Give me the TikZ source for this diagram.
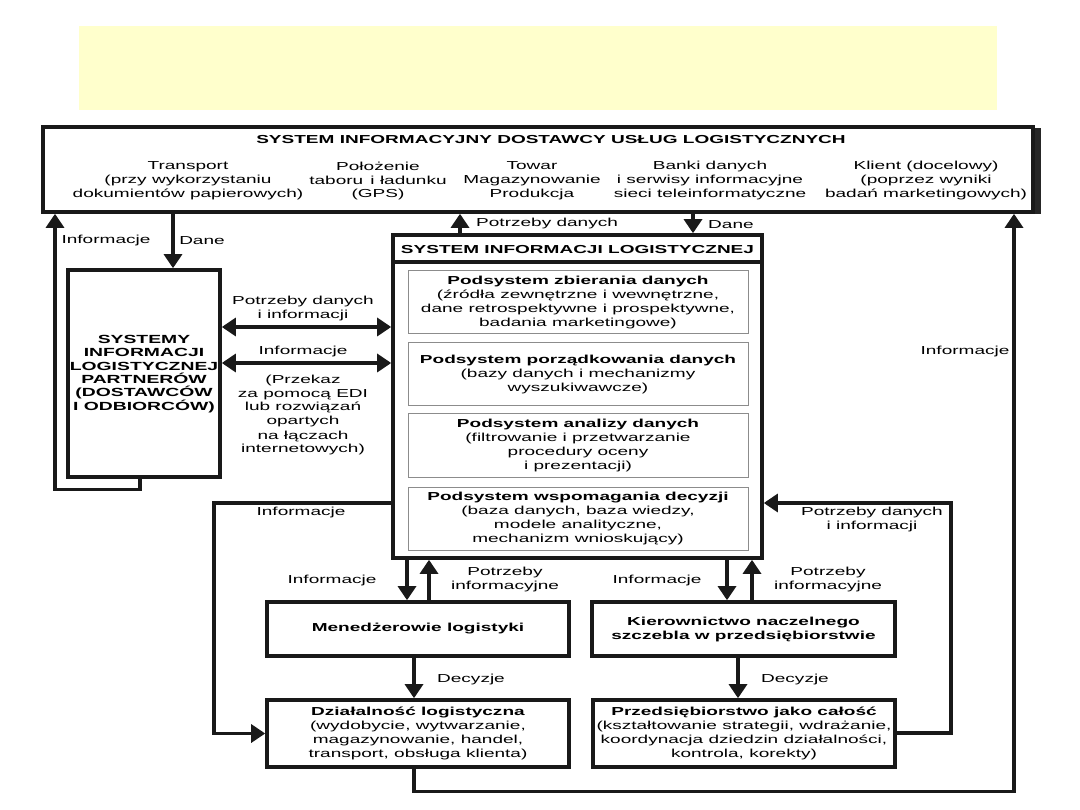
\documentclass[tikz,border=0pt]{standalone}
\usepackage{fontspec}
\setmainfont{Liberation Sans}[FakeStretch=1.64]
\usetikzlibrary{arrows.meta}
\newcommand\dgsize{\fontsize{11.6}{14}\selectfont}
\newcommand\dgsizeb{\fontsize{11.8}{13.4}\selectfont}
\definecolor{paleyellow}{RGB}{255,255,204}
\tikzset{
  box/.style={draw=black!90, line width=3.6pt, inner sep=0pt, align=center, font=\dgsize},
  subbox/.style={draw=black!45, line width=1pt, inner sep=0pt, align=center, font=\dgsize},
  lbl/.style={inner sep=0pt, align=center, font=\dgsize},
  conn/.style={line width=3.2pt, draw=black!90},
  arr/.style={conn, -{Triangle[width=18pt,length=14pt]}},
  darr/.style={conn, {Triangle[width=18pt,length=14pt]}-{Triangle[width=18pt,length=14pt]}},
}
\begin{document}
\begin{tikzpicture}[x=1pt,y=-1pt]
\useasboundingbox (0,0) rectangle (1080,810);
% yellow title band
\fill[paleyellow] (79,26) rectangle (997,110);

% top box with shadow
\fill[black!85] (1035,128) rectangle (1041,214);
\node[box, minimum width=990pt, minimum height=85pt] (top) at (538,169.5) {};
\node[lbl, font=\dgsize\bfseries] (tophead) at (551,140) {SYSTEM INFORMACYJNY DOSTAWCY USŁUG LOGISTYCZNYCH};
\node[lbl] (c1) at (188,181) {Transport\\(przy wykorzystaniu\\dokumientów papierowych)};
\node[lbl] (c2) at (378,181) {Położenie\\taboru\, i ładunku\\(GPS)};
\node[lbl] (c3) at (532,181) {Towar\\Magazynowanie\\Produkcja};
\node[lbl] (c4) at (710,181) {Banki danych\\i serwisy informacyjne\\sieci teleinformatyczne};
\node[lbl] (c5) at (926,181) {Klient (docelowy)\\(poprzez wyniki\\badań marketingowych)};

% partners box
\node[box, minimum width=152pt, minimum height=207pt] (partners) at (144,373.5) {};
\node[lbl, font=\dgsizeb\bfseries] (partnerstxt) at (144,374)
  {SYSTEMY\\INFORMACJI\\LOGISTYCZNEJ\\PARTNERÓW\\(DOSTAWCÓW\\I ODBIORCÓW)};

% central system
\node[box, minimum width=369pt, minimum height=323pt] (sil) at (577.5,396.5) {};
\coordinate (sep) at (0,262);
\draw[line width=3.6pt, draw=black!90] (sil.west |- sep) -- (sil.east |- sep);
\node[lbl, font=\dgsize\bfseries] (silhead) at (577.5,250) {SYSTEM INFORMACJI LOGISTYCZNEJ};
\node[subbox, minimum width=340pt, minimum height=63pt] (sub1) at (578,302.5)
  {\textbf{Podsystem zbierania danych}\\(źródła zewnętrzne i wewnętrzne,\\dane retrospektywne i prospektywne,\\badania marketingowe)};
\node[subbox, minimum width=340pt, minimum height=63pt] (sub2) at (578,374.5)
  {\textbf{Podsystem porządkowania danych}\\(bazy danych i mechanizmy\\wyszukiwawcze)};
\node[subbox, minimum width=340pt, minimum height=64pt] (sub3) at (578,446)
  {\textbf{Podsystem analizy danych}\\(filtrowanie i przetwarzanie\\procedury oceny\\i prezentacji)};
\node[subbox, minimum width=340pt, minimum height=63pt] (sub4) at (578,518.5)
  {\textbf{Podsystem wspomagania decyzji}\\(baza danych, baza wiedzy,\\modele analityczne,\\mechanizm wnioskujący)};

% lower boxes
\node[box, font=\dgsize\bfseries, minimum width=302pt, minimum height=54pt] (men) at (418,629) {Menedżerowie logistyki};
\node[box, minimum width=302pt, minimum height=67pt] (dzial) at (418,733.5)
  {\textbf{Działalność logistyczna}\\(wydobycie, wytwarzanie,\\magazynowanie, handel,\\transport, obsługa klienta)};
\node[box, font=\dgsize\bfseries, minimum width=303pt, minimum height=54pt] (kier) at (743.5,629)
  {Kierownictwo naczelnego\\szczebla w przedsiębiorstwie};
\node[box, minimum width=302pt, minimum height=67pt] (przed) at (744,733.5)
  {\textbf{Przedsiębiorstwo jako całość}\\(kształtowanie strategii, wdrażanie,\\koordynacja dziedzin działalności,\\kontrola, korekty)};

% helper coordinates
\coordinate (xl) at (55,0);
\coordinate (xd) at (173,0);
\coordinate (xp) at (460,0);
\coordinate (xdc) at (693,0);
\coordinate (xr) at (1014,0);
\coordinate (y1) at (0,327);
\coordinate (y2) at (0,363);
\coordinate (a1) at (214,503);
\coordinate (xm1) at (407,0);
\coordinate (xm2) at (429,0);
\coordinate (xm3) at (414,0);
\coordinate (xk1) at (727,0);
\coordinate (xk2) at (752,0);
\coordinate (xk3) at (738,0);
\coordinate (b1) at (951,733);
\coordinate (yb) at (0,503);

% connectors
\draw[arr] ([xshift=-4pt]partners.south) -- ++(0,11) -| (xl |- top.south);
\draw[arr] (xd |- top.south) -- (xd |- partners.north);
\draw[arr] (xp |- sil.north) -- (xp |- top.south);
\draw[arr] (xdc |- top.south) -- (xdc |- sil.north);
\draw[darr] (partners.east |- y1) -- (sil.west |- y1);
\draw[darr] (partners.east |- y2) -- (sil.west |- y2);
\draw[arr] (sil.west |- a1) -- (a1) |- (dzial.west);
\draw[arr] (xm1 |- sil.south) -- (xm1 |- men.north);
\draw[arr] (xm2 |- men.north) -- (xm2 |- sil.south);
\draw[arr] (xm3 |- men.south) -- (xm3 |- dzial.north);
\draw[arr] (xm3 |- dzial.south) -- ++(0,23) -| (xr |- top.south);
\draw[arr] (xk1 |- sil.south) -- (xk1 |- kier.north);
\draw[arr] (xk2 |- kier.north) -- (xk2 |- sil.south);
\draw[arr] (xk3 |- kier.south) -- (xk3 |- przed.north);
\draw[arr] (przed.east |- b1) -- (b1) |- (sil.east |- yb);

% labels
\node[lbl] (lInfoL) at (106,241) {Informacje};
\node[lbl] (lDaneL) at (202,241) {Dane};
\node[lbl, anchor=west] (lPotC) at (476,224) {Potrzeby danych};
\node[lbl, anchor=west] (lDaneC) at (708,225) {Dane};
\node[lbl] (lPDI) at (303,309) {Potrzeby danych\\i informacji};
\node[lbl] (lInfo2) at (303,352) {Informacje};
\node[lbl] (lPrzek) at (303,415) {(Przekaz\\za pomocą EDI\\lub rozwiązań\\opartych\\na łączach\\internetowych)};
\node[lbl] (lInfoR) at (965,352) {Informacje};
\node[lbl] (lInfoC) at (301,513) {Informacje};
\node[lbl] (lInfoM) at (332,580) {Informacje};
\node[lbl] (lPotM) at (505,580) {Potrzeby\\informacyjne};
\node[lbl] (lDecL) at (471,679) {Decyzje};
\node[lbl] (lInfoK) at (657,580) {Informacje};
\node[lbl] (lPotK) at (828,580) {Potrzeby\\informacyjne};
\node[lbl] (lDecR) at (795,679) {Decyzje};
\node[lbl] (lPDI2) at (872,520) {Potrzeby danych\\i informacji};
\end{tikzpicture}
\end{document}
